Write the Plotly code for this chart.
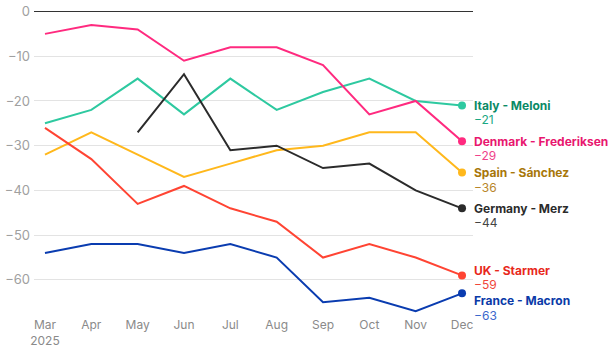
import plotly.graph_objects as go

months = ["Mar", "Apr", "May", "Jun", "Jul", "Aug", "Sep", "Oct", "Nov", "Dec"]
tick_labels = ["Mar<br>2025", "Apr", "May", "Jun", "Jul", "Aug", "Sep", "Oct", "Nov", "Dec"]

italy = [-25, -22, -15, -23, -15, -22, -18, -15, -20, -21]
denmark = [-5, -3, -4, -11, -8, -8, -12, -23, -20, -29]
spain = [-32, -27, -32, -37, -34, -31, -30, -27, -27, -36]
germany = [None, None, -27, -14, -31, -30, -35, -34, -40, -44]
uk = [-26, -33, -43, -39, -44, -47, -55, -52, -55, -59]
france = [-54, -52, -52, -54, -52, -55, -65, -64, -67, -63]

names = ["Italy - Meloni", "Denmark - Frederiksen", "Spain - Sánchez",
         "Germany - Merz", "UK - Starmer", "France - Macron"]
series = [italy, denmark, spain, germany, uk, france]
line_colors = ["#2ec9a0", "#ff2a7f", "#ffb81c", "#2b2b2b", "#ff4433", "#0a3cb0"]
label_colors = ["#0b8a66", "#e8176f", "#a8770a", "#2b2b2b", "#e8281c", "#0a3aa8"]
value_colors = ["#1aa783", "#f0418a", "#b8862a", "#444444", "#f0463a", "#3b68cc"]
label_shift = [0, 0, 0, 0, 5, -7.5]

yticks = [0, -10, -20, -30, -40, -50, -60]

fig = go.Figure()
x_idx = list(range(len(months)))
for name, vals, lc in zip(names, series, line_colors):
    fig.add_trace(go.Scatter(x=x_idx, y=vals, mode="lines", line=dict(color=lc, width=2),
                             name=name, showlegend=False, connectgaps=False,
                             hoverinfo="skip"))
    fig.add_trace(go.Scatter(x=[x_idx[-1]], y=[vals[-1]], mode="markers",
                             marker=dict(color=lc, size=8), showlegend=False,
                             hoverinfo="skip", cliponaxis=False))

for name, vals, lc, vc, sh in zip(names, series, label_colors, value_colors, label_shift):
    v = vals[-1]
    fig.add_annotation(x=x_idx[-1], y=v, xref="x", yref="y", text=f"<b>{name}</b>",
                       showarrow=False, xanchor="left", yanchor="middle", xshift=10,
                       yshift=sh, font=dict(family="Inter", size=12, color=lc))
    fig.add_annotation(x=x_idx[-1], y=v, xref="x", yref="y",
                       text="\u2212" + str(abs(v)),
                       showarrow=False, xanchor="left", yanchor="middle", xshift=10,
                       yshift=sh - 14.5, font=dict(family="Inter", size=12, color=vc))

fig.update_layout(
    width=612, height=354,
    margin=dict(l=34, r=139, t=10, b=38),
    paper_bgcolor="white", plot_bgcolor="white",
    font=dict(family="Inter", size=12, color="#9a9a9a"),
    xaxis=dict(range=[-0.237, 9.237], tickmode="array", tickvals=x_idx,
               ticktext=tick_labels, showgrid=False, zeroline=False, showline=False,
               ticks="", automargin=False, tickfont=dict(size=12, color="#8a8a8a")),
    yaxis=dict(range=[-68.07, 0.335], tickmode="array", tickvals=yticks,
               ticktext=["0"] + ["\u2212" + str(abs(t)) for t in yticks[1:]],
               showgrid=True, gridcolor="#e3e3e3", gridwidth=1,
               zeroline=True, zerolinecolor="#333333", zerolinewidth=1.2,
               showline=False, ticks="", automargin=False, ticklabelstandoff=3,
               tickfont=dict(size=13, color="#a0a0a0")),
)

fig.write_html("out.html")
